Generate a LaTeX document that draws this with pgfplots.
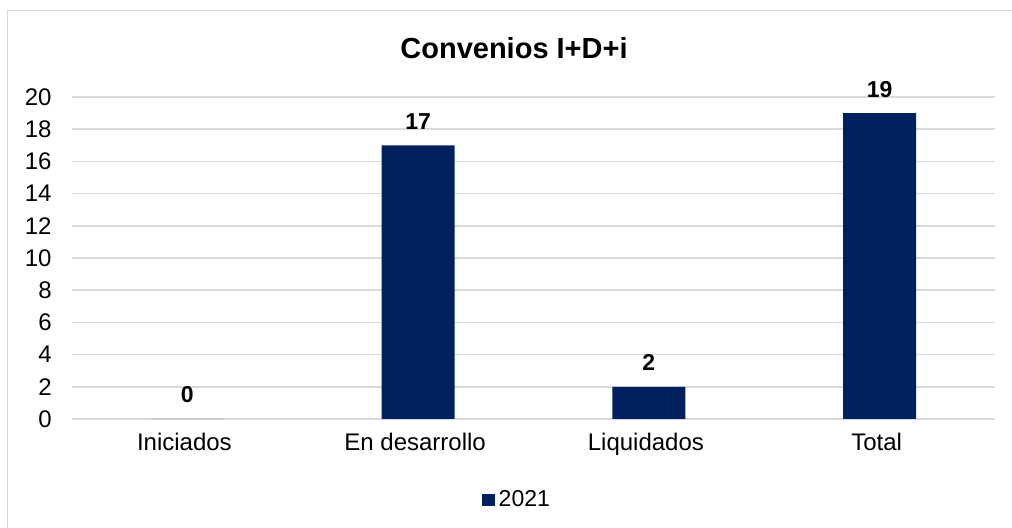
\documentclass[border=0pt]{standalone}
\usepackage{pgfplots}
\pgfplotsset{compat=1.18}
\usepackage{fontspec}
\setmainfont{Liberation Sans}
\definecolor{barblue}{HTML}{002060}
\definecolor{gridgray}{HTML}{D9D9D9}
\begin{document}
\begin{tikzpicture}
\useasboundingbox (0,0) rectangle (506pt,264pt);
\draw[gridgray, line width=0.8pt] (3.75pt,0) -- (3.75pt,258.75pt) -- (506pt,258.75pt);
\node[font=\fontsize{14.5}{17}\selectfont\bfseries] at (257pt,240pt) {Convenios I+D+i};
\begin{axis}[
  at={(36pt,54.5pt)}, anchor=south west,
  scale only axis, width=461.5pt, height=161pt,
  xmin=-0.5, xmax=3.5, ymin=0, ymax=20,
  ytick={0,2,...,20},
  xtick={0,1,2,3},
  xticklabels={Iniciados, En desarrollo, Liquidados, Total},
  ymajorgrids, grid style={gridgray, line width=0.75pt},
  axis line style={draw=none},
  major tick length=0pt,
  tick label style={font=\fontsize{12}{14}\selectfont},
  /pgf/number format/assume math mode=true,
  yticklabel style={anchor=east, inner sep=0pt, xshift=-10pt},
  xticklabel style={anchor=north, inner sep=0pt, yshift=-7pt, xshift=-1.5pt},
  ybar, bar width=36.5pt,
  nodes near coords,
  every node near coord/.append style={font=\fontsize{11.5}{14}\selectfont\bfseries, anchor=center, yshift=12pt, inner sep=0pt},
  legend style={at={(axis description cs:0.483,-0.2516)}, anchor=center, draw=none, font=\fontsize{11.5}{14}\selectfont, legend columns=-1, inner sep=1pt},
  legend image code/.code={\fill[barblue] (0pt,-3.2pt) rectangle (6.5pt,3.2pt);},
]
\addplot[fill=barblue, draw=none] coordinates {(0,0) (1,17) (2,2) (3,19)};
\addlegendentry{2021}
\end{axis}
\end{tikzpicture}
\end{document}
